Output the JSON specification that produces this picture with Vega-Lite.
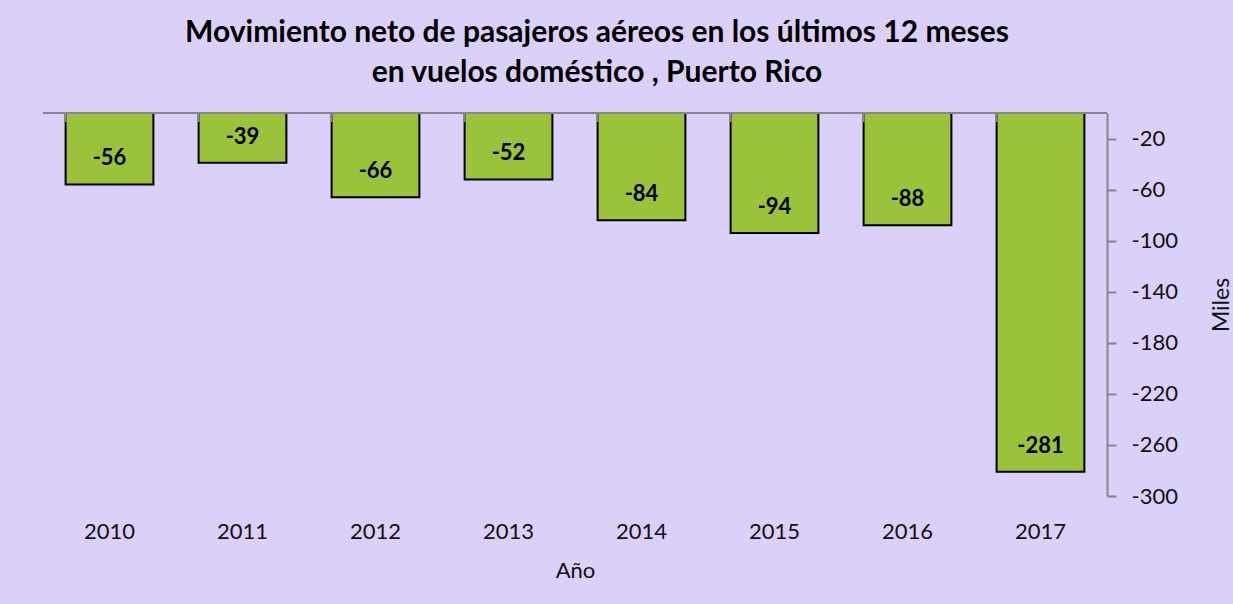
{
  "$schema": "https://vega.github.io/schema/vega-lite/v6.json",
  "width": 1064,
  "height": 383,
  "autosize": "none",
  "padding": {"left": 43, "top": 113, "right": 126, "bottom": 108},
  "background": "#DAD0F8",
  "config": {
    "view": {"stroke": null},
    "locale": {"number": {"decimal": ".", "thousands": ",", "grouping": [3], "currency": ["$", ""], "minus": "-"}}
  },
  "title": {
    "text": ["Movimiento neto de pasajeros aéreos en los últimos 12 meses", "en vuelos doméstico , Puerto Rico"],
    "font": "Lato",
    "fontSize": 30,
    "fontWeight": "bold",
    "color": "#000000",
    "anchor": "middle",
    "dx": 22,
    "offset": 24,
    "lineHeight": 40
  },
  "data": {
    "values": [
      {"year": "2010", "value": -56},
      {"year": "2011", "value": -39},
      {"year": "2012", "value": -66},
      {"year": "2013", "value": -52},
      {"year": "2014", "value": -84},
      {"year": "2015", "value": -94},
      {"year": "2016", "value": -88},
      {"year": "2017", "value": -281}
    ]
  },
  "layer": [
    {
      "mark": {"type": "bar", "color": "#9BC23B", "stroke": "#000000", "strokeWidth": 2},
      "encoding": {
        "x": {
          "field": "year", "type": "nominal",
          "scale": {"paddingInner": 0.34, "paddingOuter": 0.17},
          "axis": {
            "orient": "bottom", "domain": false, "ticks": false,
            "labelAngle": 0, "labelFont": "Lato", "labelFontSize": 22, "labelColor": "#111111",
            "labelPadding": 25,
            "title": "Año", "titleFont": "Lato", "titleFontSize": 22, "titleFontWeight": "normal",
            "titleColor": "#111111", "titlePadding": 18
          }
        },
        "y": {
          "field": "value", "type": "quantitative",
          "scale": {"domain": [-300, 0], "nice": false, "zero": false},
          "axis": {
            "orient": "right", "values": [-20, -60, -100, -140, -180, -220, -260, -300],
            "grid": false, "domainColor": "#878787", "domainWidth": 2,
            "tickColor": "#878787", "tickWidth": 2, "tickSize": 9,
            "labelFont": "Lato", "labelFontSize": 22, "labelColor": "#111111", "labelPadding": 15,
            "title": "Miles", "titleFont": "Lato", "titleFontSize": 23, "titleFontWeight": "normal",
            "titleColor": "#111111", "titleAngle": 270, "titlePadding": 56
          }
        }
      }
    },
    {
      "mark": {"type": "text", "font": "Lato", "fontSize": 22, "fontWeight": "bold", "color": "#000000", "baseline": "middle", "dy": -26},
      "encoding": {
        "x": {"field": "year", "type": "nominal"},
        "y": {"field": "value", "type": "quantitative"},
        "text": {"field": "value", "type": "quantitative", "format": "d"}
      }
    },
    {
      "mark": {"type": "tick", "orient": "vertical", "color": "#878787", "thickness": 2, "size": 9, "yOffset": 4.5, "opacity": 1},
      "encoding": {
        "x": {"field": "year", "type": "nominal", "bandPosition": 0},
        "y": {"datum": 0}
      }
    },
    {
      "mark": {"type": "rule", "color": "#878787", "strokeWidth": 2},
      "encoding": {"y": {"datum": 0}}
    }
  ]
}
